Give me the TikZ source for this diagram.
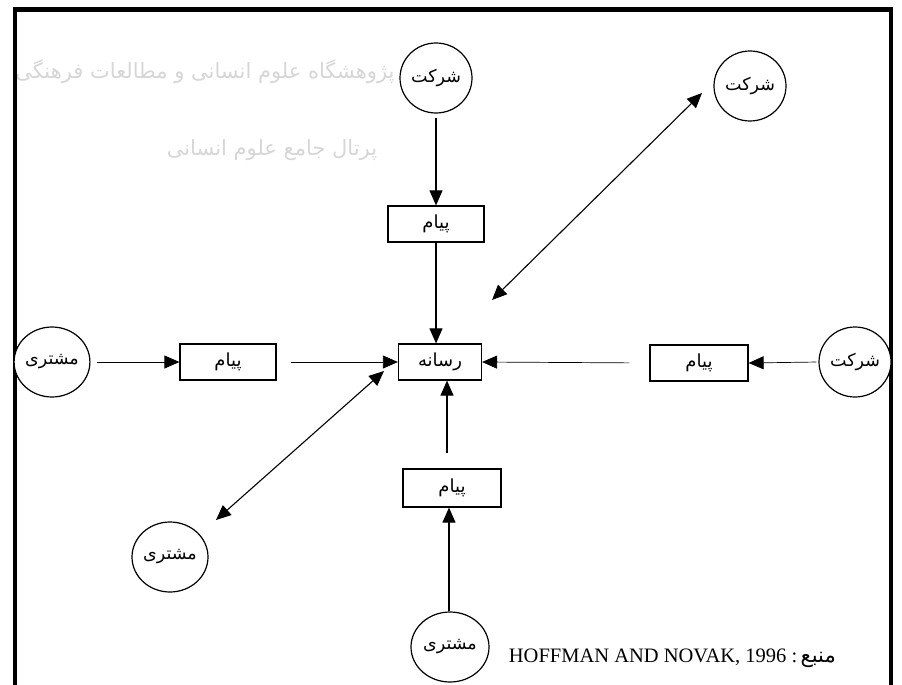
\documentclass[tikz,border=0pt]{standalone}
\usepackage{fontspec}
\setmainfont{Liberation Serif}
\newfontfamily\arabicfont[Script=Arabic]{DejaVu Sans}
\TeXXeTstate=1
\usetikzlibrary{arrows.meta,shapes.geometric}
\begin{document}
\begin{tikzpicture}[x=1pt,y=-1pt,
  circ/.style={draw, fill=white, ellipse, line width=1.2pt, minimum width=72pt, minimum height=70pt, inner sep=0pt,
    font=\arabicfont\fontsize{17.5}{21}\selectfont},
  msg/.style={draw, fill=white, rectangle, line width=1.2pt, minimum width=96pt, minimum height=36pt, inner sep=0pt,
    font=\arabicfont\fontsize{18}{21}\selectfont},
  wmark/.style={text=black!16, font=\arabicfont\fontsize{21}{26}\selectfont},
  arr/.style={line width=1.1pt, -{Triangle[length=15pt,width=13pt]}},
  darr/.style={line width=1.1pt, {Triangle[length=15pt,width=13pt]}-{Triangle[length=15pt,width=13pt]}},
  thinarr/.style={line width=0.7pt, -{Triangle[length=15pt,width=13pt]}}]
\useasboundingbox (0,0) rectangle (902,685);
% watermark
\node[wmark, anchor=east] (wm1) at (398,72) {\beginR پژوهشگاه علوم انسانی و مطالعات فرهنگی\endR};
\node[wmark] (wm2) at (272,150) {\beginR پرتال جامع علوم انسانی\endR};
% frame
\draw[line width=4.5pt] (15,695) -- (15,9.5) -- (891,9.5) -- (891,695);
% nodes
\node[circ] (t1) at (436,78) {\beginR شرکت\endR};
\node[circ] (t2) at (750,86) {\beginR شرکت\endR};
\node[circ] (t3) at (855,362) {\beginR شرکت\endR};
\node[circ] (m1) at (52,362) {\beginR مشتری\endR};
\node[circ, minimum width=76pt] (m2) at (170,557) {\beginR مشتری\endR};
\node[circ, minimum width=78pt] (m3) at (450,647) {\beginR مشتری\endR};
\node[msg, minimum width=83pt] (r) at (440,362) {\beginR رسانه\endR};
\node[msg] (pT) at (436,224) {\beginR پیام\endR};
\node[msg] (pL) at (228,362) {\beginR پیام\endR};
\node[msg, minimum width=98pt] (pR) at (699,363) {\beginR پیام\endR};
\node[msg, minimum width=98pt, minimum height=38pt] (pB) at (452,488) {\beginR پیام\endR};
\coordinate (trA) at (702,93);
\coordinate (trB) at (492,300);
\coordinate (blA) at (216,520);
\coordinate (blB) at (384,371);
% connectors
\draw[arr, shorten <=4pt] (t1.south) -- (pT.north);
\draw[arr] (pT.south) -- (pT.south |- r.north);
\draw[thinarr, shorten <=6pt] (m1.east) -- (pL.west);
\draw[thinarr, shorten <=14pt] (pL.east) -- (r.west);
\draw[thinarr, shorten <=2pt] (t3.west) -- (pR.east);
\draw[thinarr, shorten <=20pt] (pR.west) -- (r.east);
\draw[arr] (m3.north -| pB.south) ++(-3,0) coordinate (mb) (mb) -- (mb |- pB.south);
\draw[arr, shorten <=15pt] ([xshift=-5pt]pB.north) -- ([xshift=-5pt]pB.north |- r.south);
\draw[darr] (trA) -- (trB);
\draw[darr] (blA) -- (blB);
% source
\node[anchor=base east, inner sep=0pt, font=\fontsize{20.5}{24}\selectfont] (src) at (836,662) {HOFFMAN AND NOVAK, 1996 :\,{\arabicfont\fontsize{21}{24}\selectfont\beginR منبع\endR}};
\end{tikzpicture}
\end{document}
